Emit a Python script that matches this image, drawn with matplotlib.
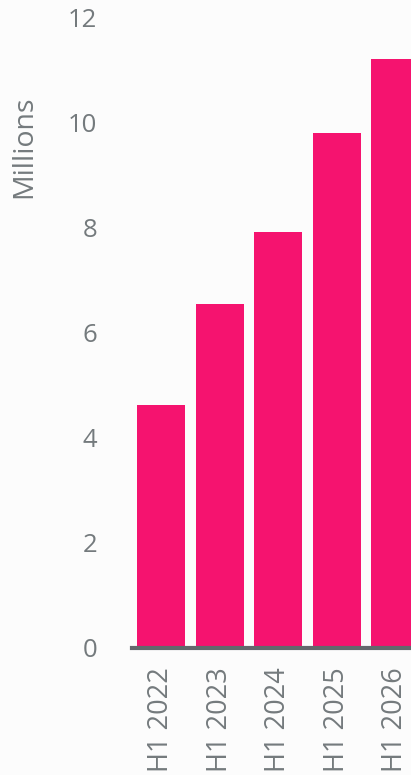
import matplotlib
matplotlib.use("Agg")
from matplotlib import pyplot as plt

# half-year totals, millions
periods = ["H1 2022", "H1 2023", "H1 2024", "H1 2025", "H1 2026"]
values = [4.62, 6.55, 7.92, 9.80, 11.22]
yticks = [0, 2, 4, 6, 8, 10, 12]

pink = "#f5136f"
grey = "#747a7d"
bg = "#fcfcfc"

plt.rcParams["font.family"] = ["Open Sans", "DejaVu Sans"]

fig = plt.figure(figsize=(4.11, 7.75), dpi=100, facecolor=bg)
ax = fig.add_axes([0.321, 0.1639, 0.679, 0.8129], facecolor=bg)

x = list(range(len(periods)))
ax.bar(x, values, width=0.82, color=pink, zorder=2)

ax.set_xlim(-0.5, 4.27)
ax.set_ylim(0, 12)
ax.set_yticks(yticks)
ax.set_yticklabels([str(t) for t in yticks])
ax.set_xticks(x)
ax.set_xticklabels(periods, rotation=90, va="top", ha="center")

for side in ("top", "right", "left"):
    ax.spines[side].set_visible(False)
ax.spines["bottom"].set_color("#63686c")
ax.spines["bottom"].set_linewidth(3)
ax.spines["bottom"].set_zorder(3)

ax.tick_params(axis="y", length=0, pad=25, labelsize=18.5, labelcolor=grey)
ax.tick_params(axis="x", length=0, pad=14, labelsize=19.5, labelcolor=grey)

ax.set_ylabel("Millions", fontsize=20.5, color=grey)
ax.yaxis.set_label_coords(-0.335, 0.795)

fig.savefig("out.png", dpi=100, facecolor=bg)
